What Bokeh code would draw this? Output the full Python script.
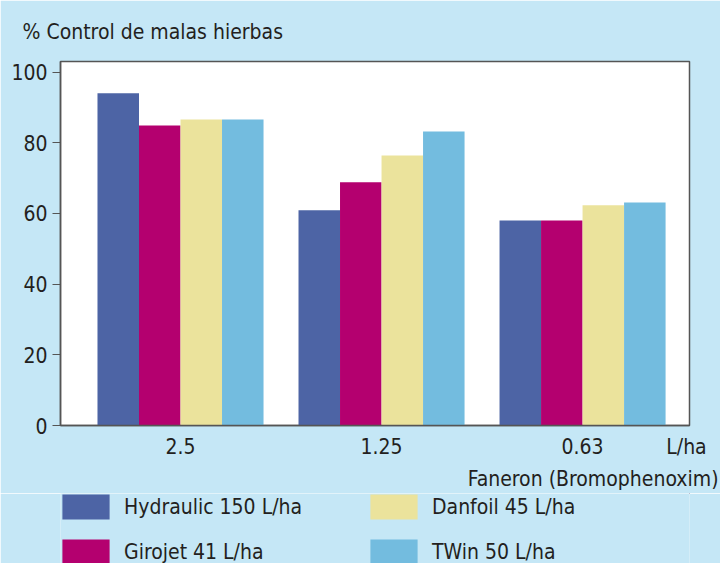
from bokeh.plotting import figure
from bokeh.layouts import column
from bokeh.models import (ColumnDataSource, FixedTicker, Legend, LegendItem, Range1d, Title)
from bokeh.embed import file_html
from bokeh.resources import INLINE

# ---- data ----
doses = ["2.5", "1.25", "0.63"]
unit_label = "L/ha"
series = ["Hydraulic 150 L/ha", "Girojet 41 L/ha", "Danfoil 45 L/ha", "TWin 50 L/ha"]
hydraulic = [94.0, 60.9, 58.0]
girojet = [84.9, 68.8, 58.0]
danfoil = [86.6, 76.4, 62.3]
twin = [86.6, 83.2, 63.1]
y_ticks = [0, 20, 40, 60, 80, 100]

colors = ["#4d64a5", "#b4006f", "#ebe39c", "#73bcdf"]
BG = "#c5e7f6"
FONT = "'Liberation Sans Narrow', 'DejaVu Sans Condensed', Roboto"
TXT = "#231f20"
FS = "21px"

p = figure(width=720, height=493, output_backend="svg", toolbar_location=None,
           x_range=Range1d(0.403, 3.532), y_range=Range1d(0, 103),
           min_border_left=60, min_border_top=61, min_border_right=31, min_border_bottom=68)
p.background_fill_color = "white"
p.border_fill_color = BG
p.outline_line_color = "#555555"
p.outline_line_width = 1.5
p.grid.visible = False

w = 0.2065
offsets = [-1.5 * w, -0.5 * w, 0.5 * w, 1.5 * w]
vals = [hydraulic, girojet, danfoil, twin]
sources = []
for name, v, off, c in zip(series, vals, offsets, colors):
    src = ColumnDataSource(dict(x=[i + 1 + off for i in range(len(doses))], top=v))
    sources.append(src)
    p.vbar(x="x", top="top", width=w, source=src, fill_color=c, line_color=None)

# title
p.title.text = "% Control de malas hierbas"
p.title.align = "left"
p.title.vertical_align = "top"
p.title.offset = -38
p.title.text_font = FONT
p.title.text_font_size = FS
p.title.text_font_style = "normal"
p.title.text_color = TXT
p.title.standoff = 32

# y axis
p.yaxis.ticker = FixedTicker(ticks=y_ticks)
p.yaxis.minor_tick_line_color = None
p.yaxis.major_tick_out = 8
p.yaxis.major_tick_in = 0
p.yaxis.major_label_standoff = 5
p.yaxis.axis_line_color = "#555555"
p.yaxis.axis_line_width = 1.5
p.yaxis.major_tick_line_color = "#555555"
p.yaxis.major_label_text_font = FONT
p.yaxis.major_label_text_font_size = FS
p.yaxis.major_label_text_color = TXT

# x axis (dose labels + unit)
p.xaxis.ticker = FixedTicker(ticks=[1, 2, 3, 3.517])
p.xaxis.major_label_overrides = {1: doses[0], 2: doses[1], 3: doses[2], 3.517: unit_label}
p.xaxis.minor_tick_line_color = None
p.xaxis.major_tick_line_color = None
p.xaxis.major_tick_out = 0
p.xaxis.major_label_standoff = 9
p.xaxis.axis_line_color = "#555555"
p.xaxis.axis_line_width = 1.5
p.xaxis.major_label_text_font = FONT
p.xaxis.major_label_text_font_size = FS
p.xaxis.major_label_text_color = TXT

sub = Title(text="Faneron (Bromophenoxim)", align="right", offset=-29, text_font=FONT,
            text_font_size=FS, text_font_style="normal", text_color=TXT, standoff=6)
p.add_layout(sub, "below")

# ---- legend panel (swatches reuse the series sources, kept out of view) ----
p2 = figure(width=720, height=70, output_backend="svg", toolbar_location=None,
            x_range=Range1d(-2, -1), y_range=Range1d(-2, -1),
            x_axis_location=None, y_axis_location=None,
            min_border=0, min_border_left=0, min_border_right=0, min_border_top=0,
            min_border_bottom=0)
p2.background_fill_color = BG
p2.border_fill_color = BG
p2.outline_line_color = None
p2.grid.visible = False
swatches = []
for src, c in zip(sources, colors):
    swatches.append(p2.vbar(x="x", top="top", width=w, source=src, fill_color=c, line_color=None))

legend = Legend(items=[LegendItem(label=s, renderers=[r]) for s, r in zip(series, swatches)],
                ncols=2, location=(-4, -4), background_fill_alpha=0, border_line_color=None,
                glyph_width=59, glyph_height=31, label_height=31, label_width=226,
                label_standoff=9, spacing=14, padding=0, margin=0,
                label_text_font=FONT, label_text_font_size=FS, label_text_color=TXT)
p2.add_layout(legend, "center")

layout = column(p, p2, spacing=0)
html = file_html(layout, INLINE)
html = html.replace("<body>", '<body style="background:%s;margin:0">' % BG, 1)
open("out.html", "w").write(html)
